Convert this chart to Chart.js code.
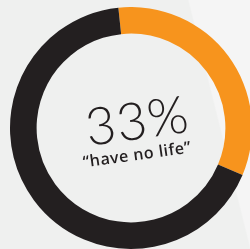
<!DOCTYPE html>
<html>
<head>
<meta charset="utf-8">
<script src="https://cdn.jsdelivr.net/npm/chart.js@4"></script>
<style>
  html, body { margin: 0; padding: 0; }
  body {
    width: 250px; height: 249px; overflow: hidden; position: relative;
    background: linear-gradient(76deg, #eff0ef 0%, #eff0ef 80%, #f5f5f5 80.5%, #f5f5f5 100%);
  }
  #wrap { position: absolute; left: 10px; top: 7px; width: 242px; height: 242px; }
  .label {
    position: absolute; left: 4px; width: 266px; text-align: center;
    color: #231f20; transform: rotate(-8deg); white-space: nowrap;
  }
  #pct { top: 88px; font-family: Lato, "Open Sans", sans-serif; font-weight: 300; font-size: 52px; letter-spacing: 1px; }
  #sub { top: 143px; font-family: "Open Sans", sans-serif; font-weight: 600; font-size: 16px; letter-spacing: 0.5px; }
</style>
</head>
<body>
<div id="wrap"><canvas id="donut" width="242" height="242"></canvas></div>
<div class="label" id="pct">33%</div>
<div class="label" id="sub">“have no life”</div>
<script>
const categories = ["have no life", "others"];
const values = [33, 67];
const colors = ["#f7941d", "#231f20"];

new Chart(document.getElementById("donut"), {
  type: "doughnut",
  data: {
    labels: categories,
    datasets: [
      {
        data: values,
        backgroundColor: colors,
        borderWidth: 0,
      },
    ],
  },
  options: {
    responsive: false,
    animation: false,
    cutout: "78%",
    rotation: -6,
    plugins: {
      legend: { display: false },
      tooltip: { enabled: false },
    },
  },
});
</script>
</body>
</html>
